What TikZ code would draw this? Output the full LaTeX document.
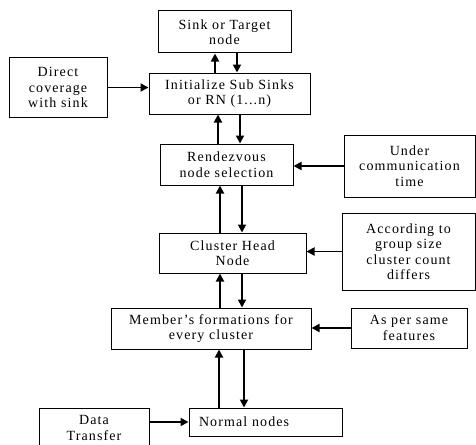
\documentclass[tikz,border=0pt]{standalone}
\usepackage{fontspec}
\setmainfont{Liberation Serif}[LetterSpace=8]
\usetikzlibrary{arrows.meta}
\tikzset{box/.style={draw, line width=1pt, align=center, inner sep=0pt, font=\fontsize{14}{15.5}\selectfont},
arr/.style={line width=1.8pt, -{Triangle[length=8pt,width=8pt]}}}
\begin{document}
\begin{tikzpicture}[x=1pt, y=-1pt]
\useasboundingbox (0,0) rectangle (476,444);
\clip (0,0) rectangle (476,444);
\node[box, minimum width=133, minimum height=42] (sink) at (224.5,32) {Sink or Target\\node};
\node[box, minimum width=98, minimum height=59] (direct) at (58,87.5) {Direct\\coverage\\with sink};
\node[box, minimum width=161, minimum height=41] (init) at (229.5,93.5) {Initialize Sub Sinks\\or RN (1...n)};
\node[box, minimum width=133, minimum height=41] (rendez) at (226.5,164.5) {Rendezvous\\node selection};
\node[box, minimum width=131, minimum height=62] (under) at (409.5,166) {Under\\communication\\time};
\node[box, minimum width=147, minimum height=40] (head) at (232.5,253) {Cluster Head\\Node};
\node[box, minimum width=133, minimum height=77] (group) at (408.5,251.5) {According to\\group size\\cluster count\\differs};
\node[box, minimum width=200, minimum height=41] (member) at (211,328.5) {Member's formations for\\every cluster};
\node[box, minimum width=116, minimum height=40] (same) at (409,328) {As per same\\features};
\node[box, minimum height=28, text width=133, inner xsep=10, align=left] (normal) at (265.5,422) {Normal nodes};
\node[box, minimum width=110, minimum height=40] (data) at (94,428) {Data\\Transfer};
% up and down links
\draw[arr] ([xshift=-14.5]init.north) -- ([xshift=-14.5]init.north |- sink.south);
\draw[arr] ([xshift=12.5]sink.south) -- ([xshift=12.5]sink.south |- init.north);
\draw[arr] ([xshift=-8.5]rendez.north) -- ([xshift=-8.5]rendez.north |- init.south);
\draw[arr] ([xshift=10.5]init.south) -- ([xshift=10.5]init.south |- rendez.north);
\draw[arr] ([xshift=-12.5]head.north) -- ([xshift=-12.5]head.north |- rendez.south);
\draw[arr] ([xshift=15.5]rendez.south) -- ([xshift=15.5]rendez.south |- head.north);
\draw[arr] ([xshift=9]member.north) -- ([xshift=9]member.north |- head.south);
\draw[arr] ([xshift=9.5]head.south) -- ([xshift=9.5]head.south |- member.north);
\draw[arr] ([xshift=-46.5]normal.north) -- ([xshift=-46.5]normal.north |- member.south);
\draw[arr] ([xshift=33]member.south) -- ([xshift=33]member.south |- normal.north);
% side inputs
\draw[arr] (direct.east) -- (direct.east -| init.west);
\draw[arr] (under.west) -- (under.west -| rendez.east);
\draw[arr] (group.west) -- (group.west -| head.east);
\draw[arr] (same.west) -- (same.west -| member.east);
\draw[arr] (data.east |- normal.west) -- (normal.west);
\end{tikzpicture}
\end{document}
